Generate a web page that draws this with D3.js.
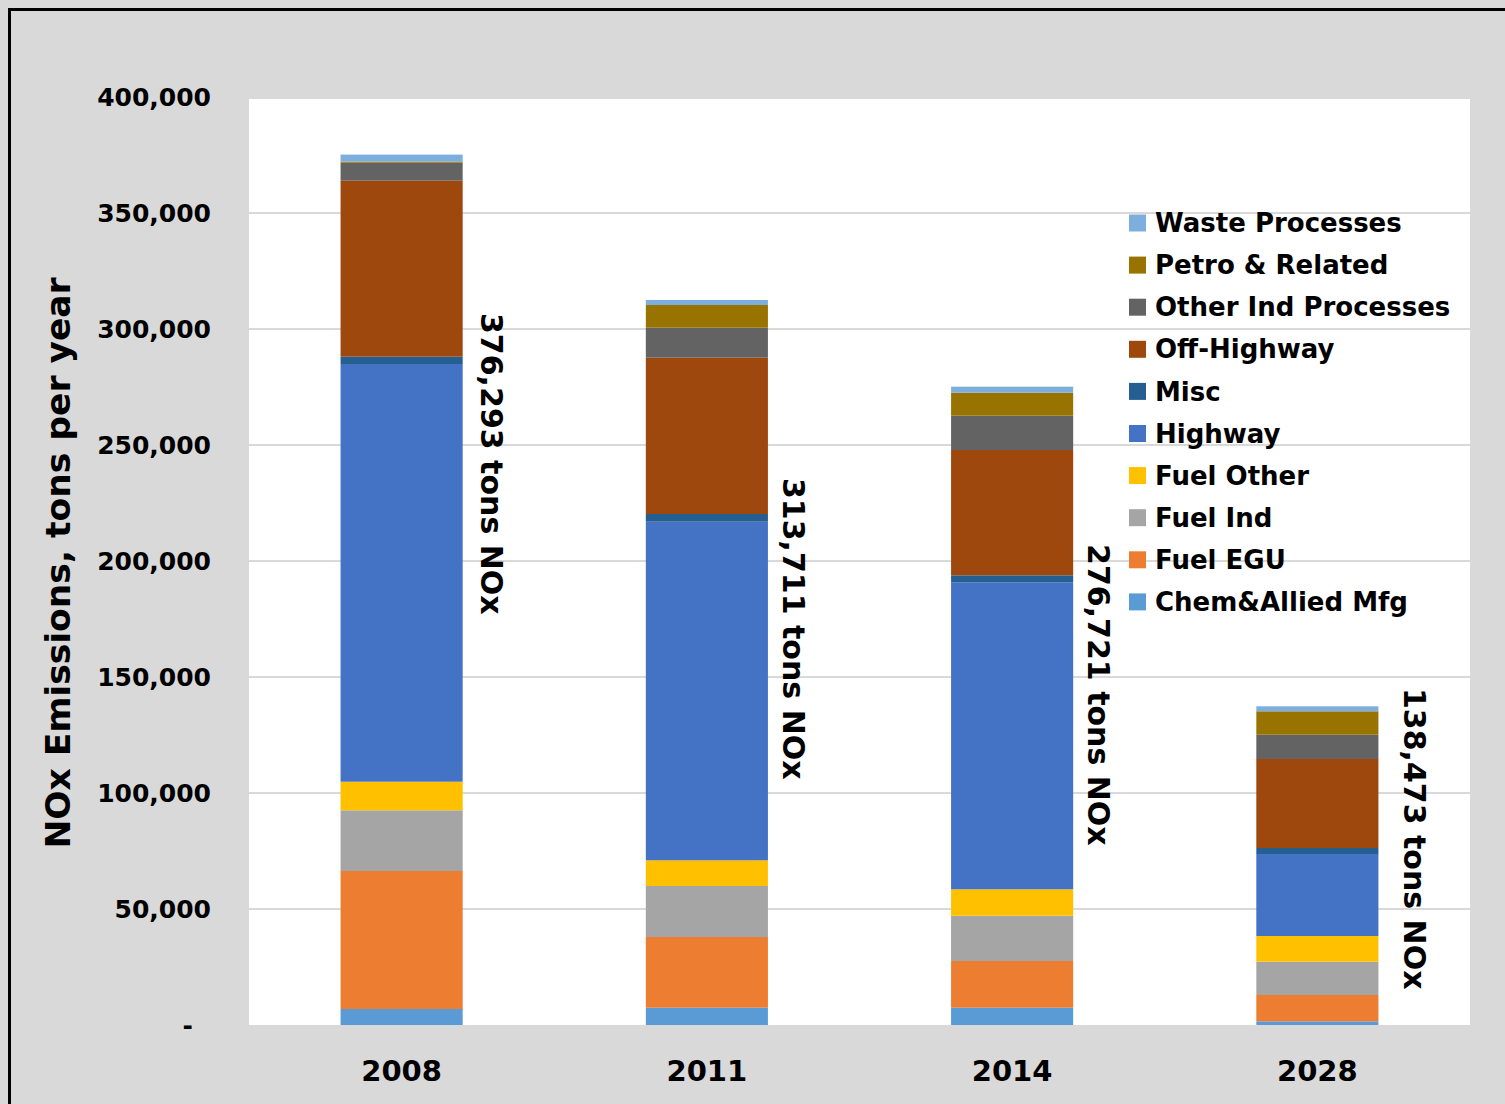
<!DOCTYPE html>
<html>
<head>
<meta charset="utf-8">
<script src="https://cdn.jsdelivr.net/npm/d3@7"></script>
<style>
  html, body { margin: 0; padding: 0; background: #d9d9d9; }
  svg { display: block; }
  text { font-family: "DejaVu Sans", Verdana, sans-serif; font-weight: bold; fill: #000; }
</style>
</head>
<body>
<svg id="chart" width="1505" height="1104"></svg>
<script>
// ---- data ----
const years = ["2008", "2011", "2014", "2028"];
const seriesNames = ["Chem&Allied Mfg", "Fuel EGU", "Fuel Ind", "Fuel Other", "Highway", "Misc", "Off-Highway", "Other Ind Processes", "Petro & Related", "Waste Processes"];
const chemAllied   = [6900, 7460, 7460, 1590];
const fuelEGU      = [59480, 30470, 20130, 11340];
const fuelInd      = [26160, 21980, 19520, 14370];
const fuelOther    = [12330, 11080, 11380, 11060];
const highway      = [180040, 145960, 132310, 35350];
const misc         = [3160, 3310, 3020, 2580];
const offHighway   = [75850, 67370, 54020, 38370];
const otherInd     = [7760, 12930, 14790, 10470];
const petro        = [500, 9780, 9910, 10080];
const waste        = [3000, 2160, 2600, 2160];
const totals       = [376293, 313711, 276721, 138473];
const yTicks       = [0, 50000, 100000, 150000, 200000, 250000, 300000, 350000, 400000];

const seriesValues = [chemAllied, fuelEGU, fuelInd, fuelOther, highway, misc, offHighway, otherInd, petro, waste];
const colors = ["#5b9bd5", "#ed7d31", "#a5a5a5", "#ffc000", "#4472c4", "#255e91", "#9e480e", "#636363", "#997300", "#7cafdd"];

// label placement (value at which the rotated total label starts, and x offset)
const labelStartValue = [306900, 235800, 207300, 145300];
const labelDx = [90, 87, 86, 97];

// ---- layout ----
const svg = d3.select("#chart");
const plot = { left: 249, top: 97, right: 1470, bottom: 1025 };

svg.append("rect").attr("x", 0).attr("y", 0).attr("width", 1505).attr("height", 1104).attr("fill", "#d9d9d9");
svg.append("rect").attr("x", 9.5).attr("y", 9.5).attr("width", 1600).attr("height", 1200)
  .attr("fill", "none").attr("stroke", "#000").attr("stroke-width", 3);

svg.append("rect").attr("x", plot.left).attr("y", 99).attr("width", plot.right - plot.left)
  .attr("height", plot.bottom - 99).attr("fill", "#fff");

const x = d3.scaleBand().domain(years).range([plot.left, plot.right]).paddingInner(0.6).paddingOuter(0.3);
const y = d3.scaleLinear().domain([0, 400000]).range([plot.bottom, plot.top]);

// gridlines
svg.append("g").selectAll("line").data(yTicks.filter(t => t > 0 && t < 400000)).join("line")
  .attr("x1", plot.left).attr("x2", plot.right)
  .attr("y1", d => y(d)).attr("y2", d => y(d))
  .attr("stroke", "#d9d9d9").attr("stroke-width", 2);

// y axis labels
const yAxis = d3.axisLeft(y).tickValues(yTicks).tickSize(0).tickPadding(0)
  .tickFormat(d => d === 0 ? "-" : d3.format(",")(d));
const gy = svg.append("g").attr("transform", `translate(${plot.left - 38},0)`).call(yAxis);
gy.select(".domain").remove();
gy.selectAll("text").style("font-size", "25px").style("font-family", "DejaVu Sans, sans-serif")
  .style("font-weight", "bold").attr("fill", "#000")
  .attr("dx", d => d === 0 ? -18 : 0);

// stacked data
const table = years.map((yr, i) => {
  const o = { year: yr };
  seriesNames.forEach((s, j) => { o[s] = seriesValues[j][i]; });
  return o;
});
const stacked = d3.stack().keys(seriesNames)(table);

svg.append("g").selectAll("g").data(stacked).join("g")
  .attr("fill", (d, i) => colors[i])
  .selectAll("rect").data(d => d).join("rect")
  .attr("x", d => x(d.data.year))
  .attr("width", x.bandwidth())
  .attr("y", d => y(d[1]))
  .attr("height", d => y(d[0]) - y(d[1]));

// x axis labels
const xAxis = d3.axisBottom(x).tickSize(0).tickPadding(0);
const gx = svg.append("g").attr("transform", `translate(0,${plot.bottom + 35})`).call(xAxis);
gx.select(".domain").remove();
gx.selectAll("text").style("font-size", "29px").style("font-family", "DejaVu Sans, sans-serif")
  .style("font-weight", "bold").attr("fill", "#000");

// total labels (rotated)
svg.append("g").selectAll("text").data(totals).join("text")
  .attr("transform", (d, i) => `translate(${x(years[i]) + x.bandwidth() / 2 + labelDx[i]},${y(labelStartValue[i])}) rotate(90)`)
  .attr("dy", "0.35em")
  .attr("text-anchor", "start")
  .style("font-size", "30px")
  .text(d => d3.format(",")(d) + " tons NOx");

// y axis title
svg.append("text")
  .attr("transform", `translate(58,${(278 + 848) / 2}) rotate(-90)`)
  .attr("text-anchor", "middle").attr("dy", "0.35em")
  .style("font-size", "34.5px")
  .text("NOx Emissions, tons per year");

// legend
const legendItems = seriesNames.map((s, i) => ({ name: s, color: colors[i] })).reverse();
const lg = svg.append("g").attr("transform", "translate(1129,223)");
const li = lg.selectAll("g").data(legendItems).join("g")
  .attr("transform", (d, i) => `translate(0,${i * 42.1})`);
li.append("rect").attr("x", 0).attr("y", -8.5).attr("width", 17).attr("height", 17).attr("fill", d => d.color);
li.append("text").attr("x", 26).attr("dy", "0.35em").style("font-size", "26px").text(d => d.name);
</script>
</body>
</html>
